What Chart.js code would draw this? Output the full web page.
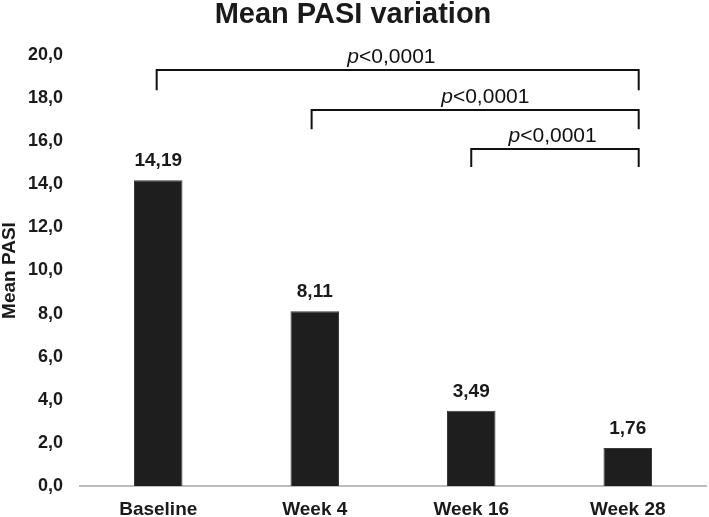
<!DOCTYPE html>
<html>
<head>
<meta charset="utf-8">
<title>Mean PASI variation</title>
<script src="https://cdn.jsdelivr.net/npm/chart.js@4/dist/chart.umd.min.js"></script>
<style>
  html, body { margin: 0; padding: 0; background: #fff; }
  #wrap { width: 709px; height: 517px; }
</style>
</head>
<body>
<div id="wrap"><canvas id="chart"></canvas></div>
<script>
const categories = ["Baseline", "Week 4", "Week 16", "Week 28"];
const meanPasi = [14.19, 8.11, 3.49, 1.76];

// significance brackets (x in category index units, y in PASI units)
const bracketFrom = [-0.01, 0.98, 2.0];
const bracketTo = [3.07, 3.07, 3.07];
const bracketTop = [19.3, 17.45, 15.64];
const bracketFoot = [18.37, 16.56, 14.8];
const pValues = ["<0,0001", "<0,0001", "<0,0001"];
const pLabelX = [1.49, 2.09, 2.52];
const pLabelY = [19.63, 17.79, 15.96];

const FONT = "'Liberation Sans', Arial, sans-serif";
const comma = (v, d) => v.toFixed(d).replace(".", ",");

// value labels above bars
const barLabels = {
  id: "barLabels",
  afterDatasetsDraw(chart) {
    const ctx = chart.ctx;
    const meta = chart.getDatasetMeta(0);
    ctx.save();
    ctx.font = "bold 19px " + FONT;
    ctx.fillStyle = "#1a1a1a";
    ctx.textAlign = "center";
    ctx.textBaseline = "alphabetic";
    meta.data.forEach((bar, i) => {
      ctx.fillText(comma(meanPasi[i], 2), bar.x, bar.y - 14);
    });
    ctx.restore();
  }
};

// brackets with p values
const brackets = {
  id: "brackets",
  afterDatasetsDraw(chart) {
    const ctx = chart.ctx;
    const x = chart.scales.x;
    const y = chart.scales.y;
    ctx.save();
    ctx.strokeStyle = "#111";
    ctx.lineWidth = 2;
    for (let i = 0; i < bracketFrom.length; i++) {
      const x1 = x.getPixelForValue(bracketFrom[i]);
      const x2 = x.getPixelForValue(bracketTo[i]);
      const yt = y.getPixelForValue(bracketTop[i]);
      const yf = y.getPixelForValue(bracketFoot[i]);
      ctx.beginPath();
      ctx.moveTo(x1, yf);
      ctx.lineTo(x1, yt);
      ctx.lineTo(x2, yt);
      ctx.lineTo(x2, yf);
      ctx.stroke();

      // "p" italic + rest regular, centred together
      const tx = x.getPixelForValue(pLabelX[i]);
      const ty = y.getPixelForValue(pLabelY[i]);
      ctx.textBaseline = "alphabetic";
      ctx.textAlign = "left";
      ctx.fillStyle = "#111";
      ctx.font = "italic 21px " + FONT;
      const wp = ctx.measureText("p").width;
      ctx.font = "21px " + FONT;
      const wr = ctx.measureText(pValues[i]).width;
      const start = tx - (wp + wr) / 2;
      ctx.font = "italic 21px " + FONT;
      ctx.fillText("p", start, ty);
      ctx.font = "21px " + FONT;
      ctx.fillText(pValues[i], start + wp, ty);
    }
    ctx.restore();
  }
};

new Chart(document.getElementById("chart"), {
  type: "bar",
  data: {
    labels: categories,
    datasets: [
      {
        data: meanPasi,
        backgroundColor: "#1e1e1e",
        borderColor: "#3a3a3a",
        borderWidth: 1,
        barPercentage: 0.31,
        categoryPercentage: 1.0
      }
    ]
  },
  options: {
    responsive: true,
    maintainAspectRatio: false,
    animation: false,
    layout: { padding: { top: 0, right: 3, bottom: 0, left: 0 } },
    plugins: {
      legend: { display: false },
      tooltip: { enabled: false },
      title: {
        display: true,
        text: "Mean PASI variation",
        color: "#1a1a1a",
        font: { family: FONT, size: 29, weight: "bold", lineHeight: 1 },
        padding: { top: 0, bottom: 26 }
      }
    },
    scales: {
      x: {
        grid: { display: false, drawTicks: false },
        border: { display: true, color: "#bdbdbd", width: 2 },
        ticks: {
          color: "#1a1a1a",
          font: { family: FONT, size: 19, weight: "bold" },
          padding: 12
        },
        afterFit(scale) { scale.height = 31; }
      },
      y: {
        min: 0,
        max: 20,
        grid: { display: false, drawTicks: false },
        border: { display: false },
        ticks: {
          stepSize: 2,
          color: "#1a1a1a",
          font: { family: FONT, size: 18, weight: "bold" },
          padding: 17,
          callback: (v) => comma(v, 1)
        },
        title: {
          display: true,
          text: "Mean PASI",
          color: "#1a1a1a",
          font: { family: FONT, size: 19, weight: "bold", lineHeight: 1 },
          padding: { top: 0, bottom: 0 }
        },
        afterFit(scale) { scale.width = 80; }
      }
    }
  },
  plugins: [barLabels, brackets]
});
</script>
</body>
</html>
